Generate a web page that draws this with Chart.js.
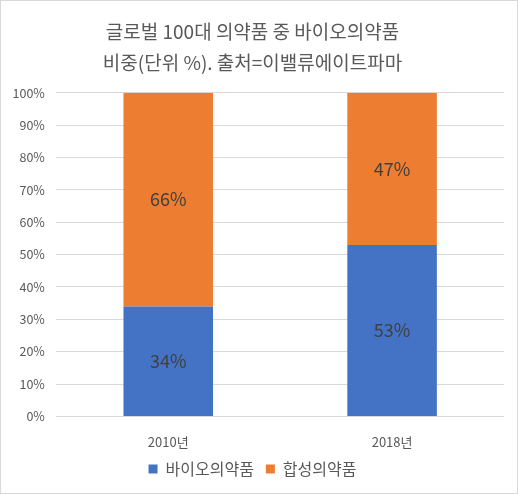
<!DOCTYPE html>
<html>
<head>
<meta charset="utf-8">
<script src="https://cdn.jsdelivr.net/npm/chart.js@4"></script>
<style>
  html, body { margin: 0; padding: 0; background: #fff; }
  #wrap { width: 516px; height: 492px; border: 1px solid #d9d9d9; }
</style>
</head>
<body>
<div id="wrap"><canvas id="chart" width="516" height="492"></canvas></div>
<script>
const years = ["2010년", "2018년"];
const bioShare = [34, 53];
const synthShare = [66, 47];
const yTicks = [0, 10, 20, 30, 40, 50, 60, 70, 80, 90, 100];

const FONT = "'Noto Sans CJK KR', 'Noto Sans', sans-serif";

// writes the share in the middle of each bar piece
const barLabels = {
  id: 'barLabels',
  afterDatasetsDraw(chart) {
    const ctx = chart.ctx;
    ctx.save();
    ctx.font = "18px " + FONT;
    ctx.fillStyle = "#404040";
    ctx.textAlign = "center";
    ctx.textBaseline = "middle";
    chart.data.datasets.forEach((ds, i) => {
      chart.getDatasetMeta(i).data.forEach((bar, j) => {
        const p = bar.getProps(['x', 'y', 'base'], true);
        ctx.fillText(ds.data[j] + "%", p.x, (p.y + p.base) / 2);
      });
    });
    ctx.restore();
  }
};

new Chart(document.getElementById("chart"), {
  type: 'bar',
  data: {
    labels: years,
    datasets: [
      { label: "바이오의약품", data: bioShare, backgroundColor: "#4472c4" },
      { label: "합성의약품", data: synthShare, backgroundColor: "#ed7d31" }
    ]
  },
  options: {
    responsive: false,
    animation: false,
    layout: { padding: { left: 0, right: 13, top: 9, bottom: 6 } },
    categoryPercentage: 1,
    barPercentage: 0.4,
    plugins: {
      title: {
        display: true,
        text: ["글로벌 100대 의약품 중 바이오의약품", "비중(단위 %). 출처=이밸류에이트파마"],
        color: "#595959",
        font: { family: FONT, size: 19, weight: 'normal', lineHeight: 1.6 },
        padding: { top: 7, bottom: 15 }
      },
      legend: {
        position: 'bottom',
        labels: {
          color: "#595959",
          font: { family: FONT, size: 16 },
          boxWidth: 9,
          boxHeight: 9,
          padding: 12
        }
      },
      tooltip: { enabled: false }
    },
    scales: {
      x: {
        stacked: true,
        grid: { display: false },
        border: { display: false },
        // pull the legend up closer to the year labels
        afterFit(axis) { axis.height -= 11; },
        ticks: { color: "#595959", font: { family: FONT, size: 13 }, padding: 10 }
      },
      y: {
        stacked: true,
        min: 0,
        max: 100,
        afterBuildTicks(axis) { axis.ticks = yTicks.map(v => ({ value: v })); },
        grid: { color: "#d9d9d9", drawTicks: false },
        border: { display: false },
        ticks: {
          color: "#595959",
          font: { family: FONT, size: 12.5 },
          padding: 11.5,
          callback: v => v + "%"
        }
      }
    }
  },
  plugins: [barLabels]
});
</script>
</body>
</html>
